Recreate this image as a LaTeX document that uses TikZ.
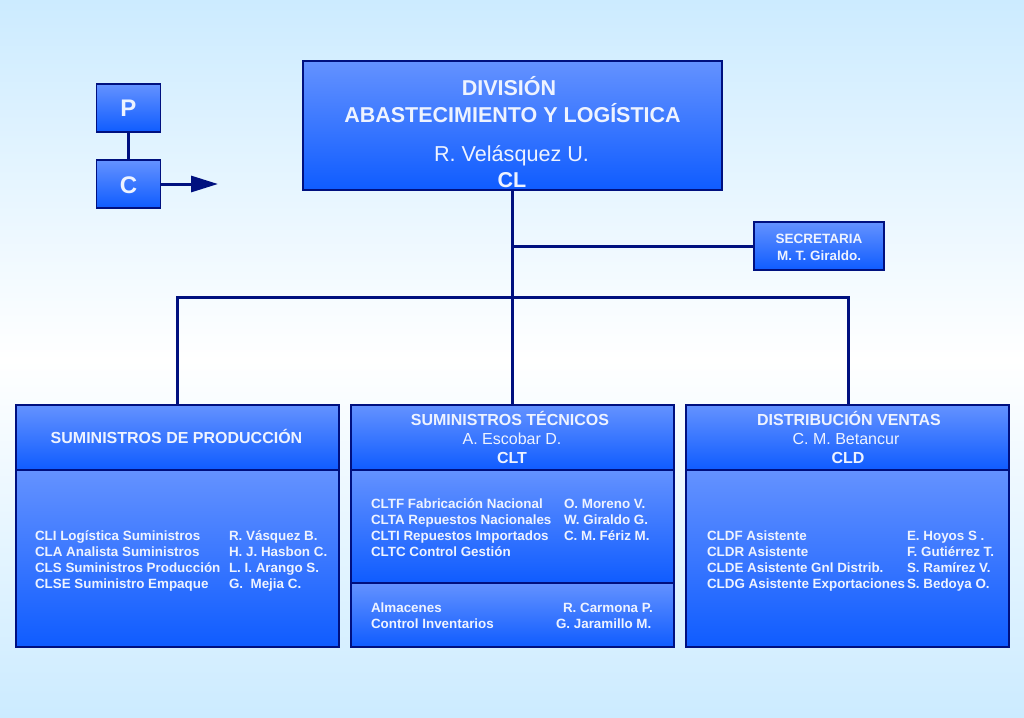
\documentclass[tikz,border=0pt]{standalone}
\usepackage{fontspec}
\setmainfont{Liberation Sans}
\usetikzlibrary{arrows.meta}
\definecolor{edge}{HTML}{00107F}
\definecolor{boxtop}{HTML}{6492FF}
\definecolor{boxbot}{HTML}{0F5CFF}
\definecolor{bgtop}{HTML}{CCEBFF}
\definecolor{bgbot}{HTML}{CCEBFF}
\definecolor{ink}{HTML}{EEF3FF}
\tikzset{
  box/.style={draw=edge,line width=1.2pt,top color=boxtop,bottom color=boxbot,inner sep=0pt,text=ink},
  link/.style={draw=edge,line width=3pt},
  list/.style={text=ink,inner sep=0pt,outer sep=0pt,anchor=north west,align=left,font=\bfseries\fontsize{13.4}{16.2}\selectfont},
  head/.style={text=ink,inner sep=0pt,anchor=base,font=\bfseries\fontsize{16}{19}\selectfont},
  names/.style={text=ink,inner sep=0pt,anchor=base,font=\fontsize{16}{19}\selectfont},
  big/.style={text=ink,inner sep=0pt,anchor=base,font=\bfseries\fontsize{21.5}{25}\selectfont},
}
\newcommand{\boxat}[5]{\node[box,minimum width=#4 pt,minimum height=#5 pt] (#1) at (#2,#3) {};}
\newcommand{\toprow}{\vphantom{Á}}
\begin{document}
\begin{tikzpicture}[x=1pt,y=-1pt]
\useasboundingbox (0,0) rectangle (1024,717);
\fill[top color=bgtop,bottom color=white] (0,0) rectangle (1024,360);
\fill[top color=white,bottom color=bgbot] (0,360) rectangle (1024,717);

\boxat{main}{512.5}{125.5}{419}{129}
\boxat{P}{128.5}{108}{64}{48}
\boxat{C}{128.5}{184}{64}{48}
\boxat{sec}{819}{246}{130}{48}
\boxat{hL}{177.5}{437.5}{323}{65}
\boxat{bL}{177.5}{558.5}{323}{177}
\boxat{hM}{512.5}{437.5}{323}{65}
\boxat{bM}{512.5}{526.5}{323}{113}
\boxat{cM}{512.5}{615}{323}{64}
\boxat{hR}{847.5}{437.5}{323}{65}
\boxat{bR}{847.5}{558.5}{323}{177}
\coordinate (bus) at (512,297);
\coordinate (tip) at (218,184);
\coordinate (dropR) at (848.5,405);

\draw[link] (bus |- main.south) -- (bus |- hM.north);
\draw[link] (hL.north) |- (bus) -| (dropR);
\draw[link] (sec.west) -- (sec.west -| bus);
\draw[link] (P.south) -- (C.north);
\draw[link,-{Triangle[length=27pt,width=16pt]}] (C.east) -- (tip);

\node[big] (t1) at (509,95) {DIVISIÓN};
\node[big] (t2) at (512.5,122) {ABASTECIMIENTO Y LOGÍSTICA};
\node[text=ink,inner sep=0pt,anchor=base,font=\fontsize{21.6}{25}\selectfont] (t3) at (511.5,161) {R. Velásquez U.};
\node[big] (t4) at (512,187) {CL};
\node[text=ink,font=\bfseries\fontsize{24}{28}\selectfont,inner sep=0pt] (tP) at (P.center) {P};
\node[text=ink,font=\bfseries\fontsize{24}{28}\selectfont,inner sep=0pt] (tC) at (128.5,185.5) {C};
\node[text=ink,inner sep=0pt,anchor=base,font=\bfseries\fontsize{13.5}{15}\selectfont] (s1) at (819,243) {SECRETARIA};
\node[text=ink,inner sep=0pt,anchor=base,font=\bfseries\fontsize{13.5}{15}\selectfont] (s2) at (819,260) {M. T. Giraldo.};

\node[head] (h1) at (176.5,443) {SUMINISTROS DE PRODUCCIÓN};
\node[head] (h2) at (510,425) {SUMINISTROS TÉCNICOS};
\node[names] (h2a) at (512,444) {A. Escobar D.};
\node[head] (h2b) at (512,463) {CLT};
\node[head] (h3) at (849,425) {DISTRIBUCIÓN VENTAS};
\node[names] (h3a) at (846,444) {C. M. Betancur};
\node[head] (h3b) at (848,463) {CLD};

\node[list] (l1) at (35,528.3) {\toprow CLI Logística Suministros\\CLA Analista Suministros\\CLS Suministros Producción\\CLSE Suministro Empaque};
\node[list] (l2) at (229,528.3) {\toprow R. Vásquez B.\\H. J. Hasbon C.\\L. I. Arango S.\\G.\ \ Mejia C.};
\node[list] (m1) at (371,496.3) {\toprow CLTF Fabricación Nacional\\CLTA Repuestos Nacionales\\CLTI Repuestos Importados\\CLTC Control Gestión};
\node[list] (m2) at (564,496.3) {\toprow O. Moreno V.\\W. Giraldo G.\\C. M. Fériz M.};
\node[list] (m3) at (371,600.8) {\toprow Almacenes\\Control Inventarios};
\node[list] (m4) at (563,600.8) {\toprow R. Carmona P.};
\node[list] (m5) at (556,617) {\toprow G. Jaramillo M.};
\node[list] (r1) at (707,528.3) {\toprow CLDF Asistente\\CLDR Asistente\\CLDE Asistente Gnl Distrib.\\CLDG Asistente Exportaciones};
\node[list] (r2) at (907,528.3) {\toprow E. Hoyos S .\\F. Gutiérrez T.\\S. Ramírez V.\\S. Bedoya O.};
\end{tikzpicture}
\end{document}
